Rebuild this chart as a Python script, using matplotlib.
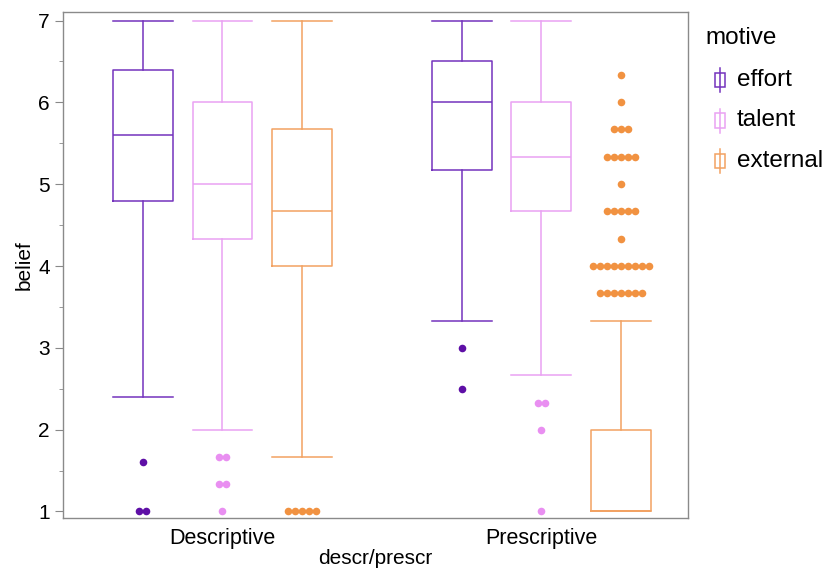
import matplotlib
matplotlib.use("Agg")
import matplotlib.pyplot as plt
from matplotlib.patches import Rectangle
from matplotlib.lines import Line2D

plt.rcParams['font.family'] = ['Liberation Sans', 'DejaVu Sans']

groups = ["Descriptive", "Prescriptive"]
motives = ["effort", "talent", "external"]

# box stats per motive, one value per group (Descriptive, Prescriptive)
whislo = {"effort": [2.4, 3.33], "talent": [2.0, 2.67], "external": [1.67, 1.0]}
q1 = {"effort": [4.8, 5.17], "talent": [4.33, 4.67], "external": [4.0, 1.0]}
med = {"effort": [5.6, 6.0], "talent": [5.0, 5.33], "external": [4.67, 1.0]}
q3 = {"effort": [6.4, 6.5], "talent": [6.0, 6.0], "external": [5.67, 2.0]}
whishi = {"effort": [7.0, 7.0], "talent": [7.0, 7.0], "external": [7.0, 3.33]}

# outliers: (value, how many points at that value)
outliers = {
    "effort": [[(1.6, 1), (1.0, 2)], [(3.0, 1), (2.5, 1)]],
    "talent": [[(1.67, 2), (1.33, 2), (1.0, 1)], [(2.33, 2), (2.0, 1), (1.0, 1)]],
    "external": [[(1.0, 5)],
                 [(6.33, 1), (6.0, 1), (5.67, 3), (5.33, 5), (5.0, 1),
                  (4.67, 5), (4.33, 1), (4.0, 9), (3.67, 7)]],
}

line_colors = {"effort": "#7433bd", "talent": "#eaa2f3", "external": "#f2a262"}
dot_colors = {"effort": "#5e0fa6", "talent": "#e98ff1", "external": "#f19241"}

offsets = [-0.25, 0.0, 0.25]
box_w = 0.188
dot_step = 0.022

fig = plt.figure(figsize=(8.28, 5.71), dpi=100)
ax = fig.add_axes([0.0761, 0.0928, 0.755, 0.887])

for m, off in zip(motives, offsets):
    stats = []
    for g in range(len(groups)):
        stats.append(dict(whislo=whislo[m][g], q1=q1[m][g], med=med[m][g],
                          q3=q3[m][g], whishi=whishi[m][g], fliers=[]))
    pos = [g + off for g in range(len(groups))]
    c = line_colors[m]
    ax.bxp(stats, positions=pos, widths=box_w, showfliers=False,
           boxprops=dict(color=c, lw=1.1), whiskerprops=dict(color=c, lw=1.1),
           capprops=dict(color=c, lw=1.1), medianprops=dict(color=c, lw=1.1),
           capwidths=box_w, manage_ticks=False)
    for g in range(len(groups)):
        for val, n in outliers[m][g]:
            xs = [g + off + (i - (n - 1) / 2) * dot_step for i in range(n)]
            ax.scatter(xs, [val] * n, s=30, color=dot_colors[m], lw=0, zorder=3)

ax.set_xlim(-0.5, 1.46)
ax.set_ylim(0.92, 7.11)
ax.set_xticks(range(len(groups)))
ax.set_xticklabels(groups, fontsize=15.5)
ax.tick_params(axis='x', length=0, pad=7)
ax.set_yticks(range(1, 8))
ax.set_yticks([1.5, 2.5, 3.5, 4.5, 5.5, 6.5], minor=True)
ax.tick_params(axis='y', which='major', length=6, color='#888888', labelsize=15, direction='out')
ax.tick_params(axis='y', which='minor', length=3, color='#888888')
for s in ax.spines.values():
    s.set_color('#8a8a8a')
    s.set_linewidth(1.0)
ax.set_xlabel("descr/prescr", fontsize=15, labelpad=0)
ax.set_ylabel("belief", fontsize=15, labelpad=3)

# legend drawn by hand in pixel coords
W, H = 828, 571
fig.text(705 / W, 1 - 38 / H, "motive", fontsize=17.5, va='center', ha='left')
for i, m in enumerate(motives):
    yc = 80 + i * 40.5
    c = line_colors[m]
    fig.add_artist(Rectangle((715 / W, 1 - (yc + 7) / H), 10 / W, 14 / H,
                             transform=fig.transFigure, fill=False, ec=c, lw=1.1))
    fig.add_artist(Line2D([720 / W, 720 / W], [1 - (yc - 12) / H, 1 - (yc + 12) / H],
                          transform=fig.transFigure, color=c, lw=1.1, zorder=0))
    fig.text(737 / W, 1 - yc / H, m, fontsize=17.5, va='center', ha='left')

fig.savefig("out.png", dpi=100, facecolor='white')
